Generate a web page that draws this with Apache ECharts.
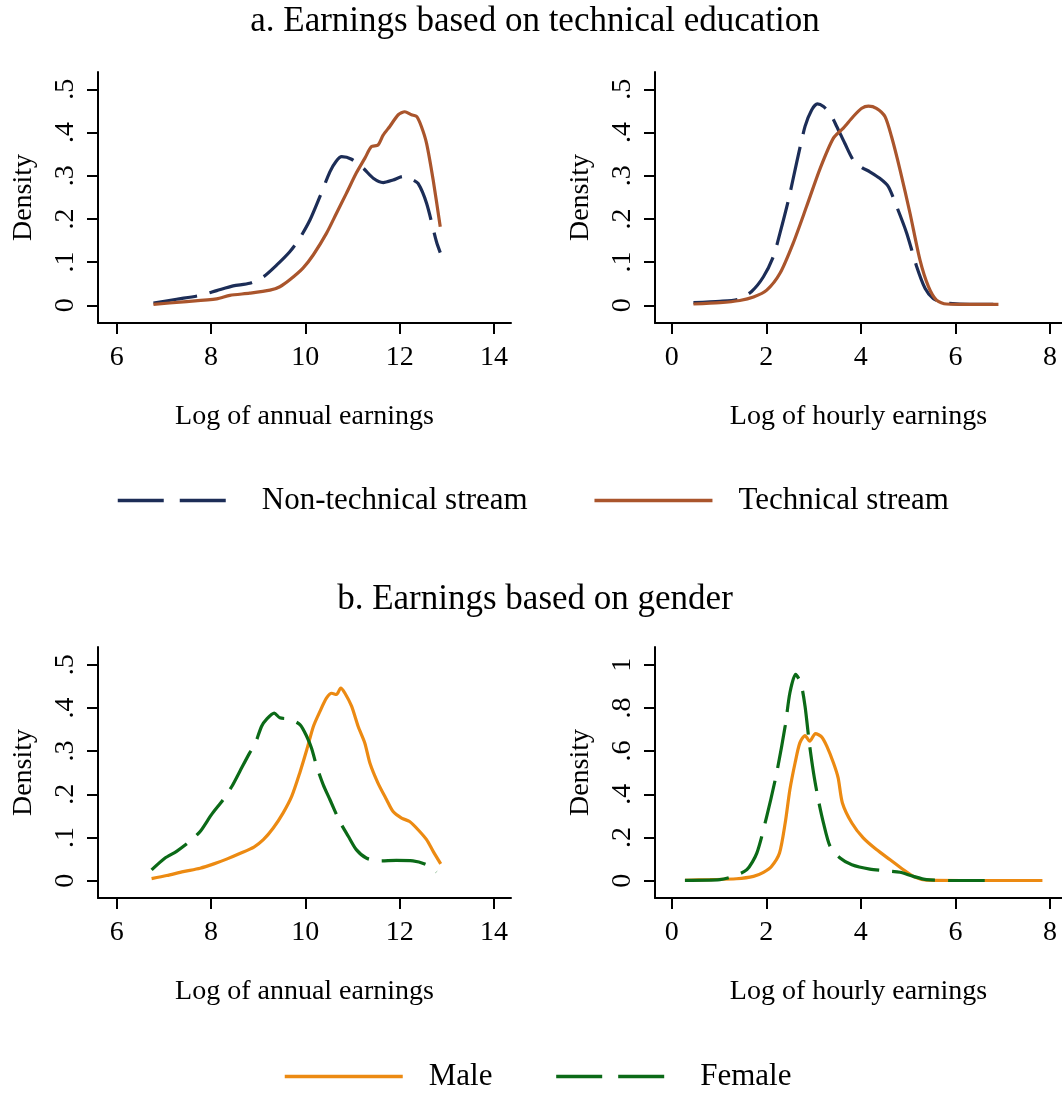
<!DOCTYPE html>
<html>
<head>
<meta charset="utf-8">
<title>Earnings density</title>
<script src="https://cdn.jsdelivr.net/npm/echarts@6/dist/echarts.min.js"></script>
<style>
  html, body { margin: 0; padding: 0; background: #fff; }
  #chart { width: 1062px; height: 1093px; }
</style>
</head>
<body>
<div id="chart"></div>
<script>
// tick labels
const annualTicks = [6, 8, 10, 12, 14]
const hourlyTicks = [0, 2, 4, 6, 8]
const densityTicksHalf = [0, 0.1, 0.2, 0.3, 0.4, 0.5]
const densityTicksOne = [0, 0.2, 0.4, 0.6, 0.8, 1]

// a. technical education - log annual earnings
const nonTechAnnual = [
  [6.78, .005], [7.27, .014], [7.77, .023], [8.12, .034], [8.47, .045], [8.82, .051],
  [9.11, .066], [9.39, .093], [9.67, .124], [9.88, .155], [10.10, .198], [10.31, .252],
  [10.52, .309], [10.65, .333], [10.77, .344], [10.98, .338], [11.23, .317], [11.44, .294],
  [11.65, .284], [11.86, .290], [12.07, .298], [12.25, .292], [12.39, .282], [12.57, .236],
  [12.78, .147], [12.86, .122]
]
const techAnnual = [
  [6.78, .002], [7.41, .008], [8.12, .015], [8.40, .023], [8.82, .028], [9.25, .035],
  [9.46, .043], [9.67, .059], [9.95, .086], [10.17, .117], [10.45, .167], [10.66, .213],
  [10.87, .259], [11.08, .306], [11.26, .340], [11.40, .367], [11.54, .371], [11.65, .394],
  [11.79, .414], [11.97, .441], [12.11, .448], [12.25, .441], [12.36, .437], [12.46, .414],
  [12.57, .375], [12.71, .290], [12.86, .182]
]

// a. technical education - log hourly earnings
const nonTechHourly = [
  [0.46, .006], [1.02, .009], [1.41, .014], [1.69, .032], [1.94, .066], [2.15, .113],
  [2.29, .167], [2.47, .244], [2.64, .329], [2.82, .414], [2.96, .452], [3.08, .466],
  [3.21, .460], [3.35, .444], [3.49, .414], [3.66, .375], [3.84, .336], [4.02, .319],
  [4.19, .309], [4.40, .294], [4.58, .275], [4.76, .228], [4.97, .167], [5.18, .090],
  [5.36, .039], [5.53, .016], [5.74, .006], [6.30, .002], [6.91, .002]
]
const techHourly = [
  [0.46, .003], [1.02, .006], [1.44, .011], [1.73, .019], [2.01, .035], [2.29, .074],
  [2.57, .144], [2.85, .228], [3.14, .317], [3.42, .387], [3.63, .410], [3.84, .437],
  [4.02, .456], [4.16, .461], [4.33, .456], [4.51, .437], [4.65, .390], [4.83, .313],
  [5.04, .213], [5.25, .105], [5.43, .043], [5.60, .012], [5.81, .003], [6.38, .002],
  [6.91, .002]
]

// b. gender - log annual earnings
const maleAnnual = [
  [6.74, .005], [7.06, .012], [7.41, .021], [7.77, .029], [8.06, .039], [8.33, .050],
  [8.61, .063], [8.91, .078], [9.11, .095], [9.32, .122], [9.53, .157], [9.71, .195],
  [9.88, .249], [10.03, .303], [10.17, .357], [10.31, .392], [10.45, .423], [10.56, .434],
  [10.66, .431], [10.75, .446], [10.84, .434], [10.98, .404], [11.12, .357], [11.26, .319],
  [11.37, .272], [11.54, .226], [11.72, .188], [11.86, .160], [12.04, .145], [12.21, .137],
  [12.39, .118], [12.57, .095], [12.71, .068], [12.87, .039]
]
const femaleAnnual = [
  [6.74, .025], [7.02, .052], [7.27, .068], [7.55, .091], [7.77, .114], [8.01, .153],
  [8.26, .188], [8.44, .218], [8.61, .253], [8.82, .296], [8.93, .315], [9.07, .357],
  [9.18, .374], [9.34, .388], [9.46, .377], [9.67, .374], [9.89, .361], [10.03, .334],
  [10.13, .307], [10.24, .265], [10.38, .222], [10.52, .188], [10.73, .137], [10.91, .103],
  [11.08, .072], [11.30, .052], [11.58, .046], [11.93, .047], [12.28, .046], [12.57, .037],
  [12.78, .020]
]

// b. gender - log hourly earnings
const maleHourly = [
  [0.28, .002], [0.81, .005], [1.37, .009], [1.73, .020], [1.94, .039], [2.11, .066],
  [2.28, .128], [2.40, .267], [2.50, .422], [2.61, .546], [2.71, .638], [2.82, .672],
  [2.92, .646], [3.04, .681], [3.17, .666], [3.28, .623], [3.42, .546], [3.52, .476],
  [3.61, .360], [3.81, .267], [4.05, .198], [4.33, .144], [4.62, .097], [4.90, .051],
  [5.14, .017], [5.39, .003], [6.50, .001], [7.84, .001]
]
const femaleHourly = [
  [0.28, .002], [1.02, .005], [1.30, .020], [1.59, .051], [1.80, .128], [2.01, .298],
  [2.22, .499], [2.40, .716], [2.50, .870], [2.62, .955], [2.73, .916], [2.82, .808],
  [2.91, .638], [3.00, .499], [3.10, .376], [3.21, .267], [3.35, .159], [3.56, .105],
  [3.81, .074], [4.19, .054], [4.54, .046], [4.83, .039], [5.11, .020], [5.39, .005],
  [5.95, .001], [6.62, .001]
]

const FONT = "'Liberation Serif', 'Times New Roman', serif"
const NAVY = '#1c2d57'
const BROWN = '#aa552c'
const ORANGE = '#ec8a12'
const GREEN = '#0b6a17'
const DASH = [44, 13]
const LEGEND_DASH = [46, 16]

// 0.1 -> ".1", 1 -> "1"
const fmtTick = v => {
  const s = String(Math.round(v * 10) / 10)
  return s.startsWith('0.') ? s.slice(1) : s
}

const grids = [
  { left: 98, top: 72, width: 413, height: 251 },
  { left: 655, top: 72, width: 407, height: 251 },
  { left: 98, top: 647, width: 413, height: 251 },
  { left: 655, top: 647, width: 407, height: 251 }
]

const axisCommon = {
  axisLine: { show: true, onZero: false, lineStyle: { color: '#000', width: 2 } },
  axisTick: { show: true, inside: false, length: 11, lineStyle: { color: '#000', width: 2 } },
  splitLine: { show: false },
  nameLocation: 'middle',
  nameTextStyle: { fontFamily: FONT, fontSize: 28, color: '#000' }
}

const makeX = (gridIndex, min, max, ticks, name) => ({
  ...axisCommon,
  type: 'value',
  gridIndex, min, max, name,
  nameGap: 80,
  axisTick: { ...axisCommon.axisTick, customValues: ticks },
  axisLabel: { customValues: ticks, margin: 21, fontFamily: FONT, fontSize: 28, color: '#000' }
})

const makeY = (gridIndex, min, max, ticks) => ({
  ...axisCommon,
  type: 'value',
  gridIndex, min, max,
  name: 'Density',
  nameGap: 60,
  axisTick: { ...axisCommon.axisTick, customValues: ticks },
  axisLabel: {
    customValues: ticks, rotate: 90, margin: 18,
    formatter: fmtTick, fontFamily: FONT, fontSize: 28, color: '#000'
  }
})

const line = (name, data, idx, color, dashed) => ({
  name, type: 'line', data,
  xAxisIndex: idx, yAxisIndex: idx,
  symbol: 'none', smooth: 0.25,
  lineStyle: { color, width: 3.2, type: dashed ? DASH : 'solid' },
  itemStyle: { color },
  silent: true, animation: false
})

const legendText = { fontFamily: FONT, fontSize: 31, color: '#000', padding: [0, 0, 0, 21] }

// legend keys: line only, no marker in the middle
const legendBase = {
  padding: 0, itemWidth: 118, itemHeight: 14,
  selectedMode: false, textStyle: legendText,
  itemStyle: { opacity: 0 },
  lineStyle: { width: 3.5 }
}

const option = {
  backgroundColor: '#fff',
  animation: false,
  title: [
    { text: 'a. Earnings based on technical education', left: 535, top: 4, textAlign: 'center', padding: 0,
      textStyle: { fontFamily: FONT, fontSize: 35, fontWeight: 'normal', color: '#000' } },
    { text: 'b. Earnings based on gender', left: 535, top: 582, textAlign: 'center', padding: 0,
      textStyle: { fontFamily: FONT, fontSize: 35, fontWeight: 'normal', color: '#000' } }
  ],
  legend: [
    { ...legendBase, left: 116, top: 485, itemGap: 65,
      data: [
        { name: 'Non-technical stream', lineStyle: { type: LEGEND_DASH, width: 3.5 } },
        { name: 'Technical stream', lineStyle: { width: 3.5 } }
      ] },
    { ...legendBase, left: 283, top: 1061, itemGap: 62,
      data: [
        { name: 'Male', lineStyle: { width: 3.5 } },
        { name: 'Female', lineStyle: { type: LEGEND_DASH, width: 3.5 } }
      ] }
  ],
  grid: grids,
  xAxis: [
    makeX(0, 5.604, 14.36, annualTicks, 'Log of annual earnings'),
    makeX(1, -0.353, 8.254, hourlyTicks, 'Log of hourly earnings'),
    makeX(2, 5.604, 14.36, annualTicks, 'Log of annual earnings'),
    makeX(3, -0.353, 8.254, hourlyTicks, 'Log of hourly earnings')
  ],
  yAxis: [
    makeY(0, -0.041, 0.540, densityTicksHalf),
    makeY(1, -0.041, 0.540, densityTicksHalf),
    makeY(2, -0.040, 0.541, densityTicksHalf),
    makeY(3, -0.080, 1.082, densityTicksOne)
  ],
  series: [
    line('Non-technical stream', nonTechAnnual, 0, NAVY, true),
    line('Technical stream', techAnnual, 0, BROWN, false),
    line('Non-technical stream', nonTechHourly, 1, NAVY, true),
    line('Technical stream', techHourly, 1, BROWN, false),
    line('Male', maleAnnual, 2, ORANGE, false),
    line('Female', femaleAnnual, 2, GREEN, true),
    line('Male', maleHourly, 3, ORANGE, false),
    line('Female', femaleHourly, 3, GREEN, true)
  ]
}

const chart = echarts.init(document.getElementById('chart'), null, { renderer: 'canvas' })
chart.setOption(option)
window.addEventListener('resize', () => chart.resize())
</script>
</body>
</html>
